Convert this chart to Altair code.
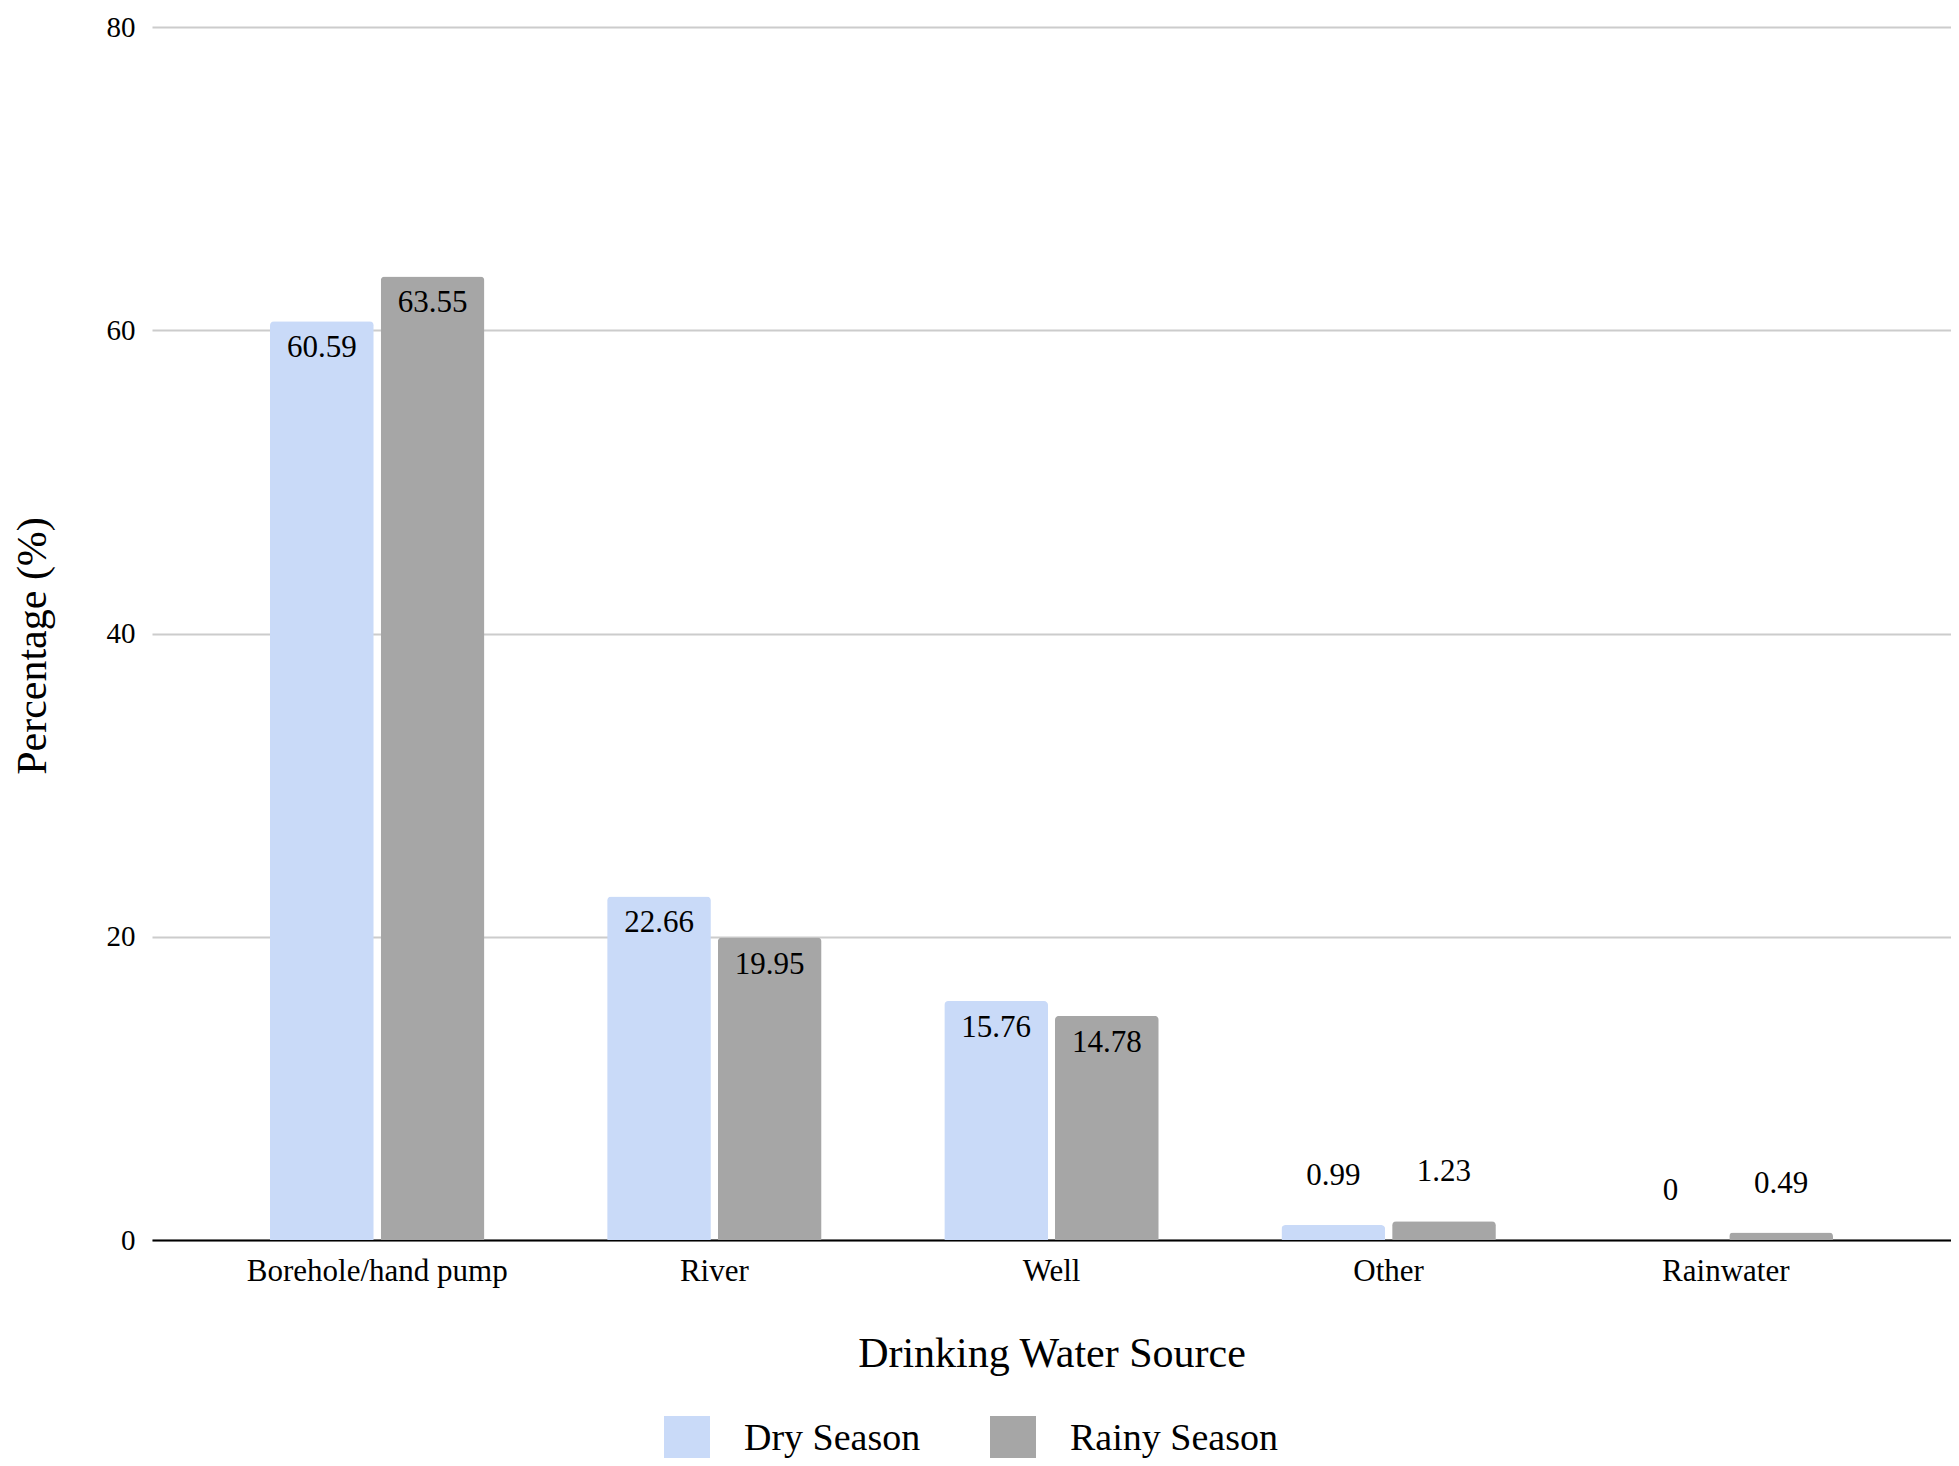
import altair as alt
import pandas as pd

categories = ["Borehole/hand pump", "River", "Well", "Other", "Rainwater"]
seasons = ["Dry Season", "Rainy Season"]
dry = [60.59, 22.66, 15.76, 0.99, 0]
rainy = [63.55, 19.95, 14.78, 1.23, 0.49]
colors = ["#c9daf8", "#a6a6a6"]

rows = []
for c, d, r in zip(categories, dry, rainy):
    for s, v in zip(seasons, (d, r)):
        rows.append({"Source": c, "Season": s, "Value": v,
                     "Label": f"{v:g}", "Inside": v > 5})
df = pd.DataFrame(rows)

FONT = "Liberation Serif"
W, H = 1799, 1213

x_enc = alt.X("Source:N", sort=categories,
              scale=alt.Scale(paddingInner=0.364, paddingOuter=0.35),
              axis=alt.Axis(title="Drinking Water Source", labelAngle=0,
                            labelFont=FONT, labelFontSize=31, labelColor="#000000",
                            labelPadding=16, labelLimit=0, ticks=False,
                            domainColor="#000000", domainWidth=2,
                            titleFont=FONT, titleFontSize=42, titleFontWeight="normal",
                            titleColor="#000000", titlePadding=47))
xo_enc = alt.XOffset("Season:N", sort=seasons, scale=alt.Scale(paddingInner=0.063))
y_enc = alt.Y("Value:Q",
              scale=alt.Scale(domain=[0, 80], nice=False),
              axis=alt.Axis(title="Percentage (%)", values=[0, 20, 40, 60, 80],
                            labelFont=FONT, labelFontSize=29, labelColor="#000000",
                            labelPadding=17, ticks=False, domain=False,
                            gridColor="#cccccc", gridWidth=2,
                            titleFont=FONT, titleFontSize=42, titleFontWeight="normal",
                            titleColor="#000000", titlePadding=52, titleY=H / 2 + 12))

bars = alt.Chart(df).mark_bar(cornerRadiusTopLeft=4, cornerRadiusTopRight=4).encode(
    x=x_enc, xOffset=xo_enc, y=y_enc,
    color=alt.Color("Season:N", sort=seasons,
                    scale=alt.Scale(domain=seasons, range=colors),
                    legend=alt.Legend(title=None, orient="none", direction="horizontal",
                                      legendX=512, legendY=1389,
                                      symbolType="square", symbolSize=2116,
                                      symbolStrokeWidth=0,
                                      labelFont=FONT, labelFontSize=38, labelLimit=0,
                                      labelColor="#000000", labelOffset=34,
                                      columnPadding=69)),
)

text_in = alt.Chart(df).transform_filter("datum.Inside").mark_text(
    font=FONT, fontSize=31, color="#000000", baseline="middle", dy=27
).encode(x=x_enc, xOffset=xo_enc, y=y_enc, text="Label:N")

text_out = alt.Chart(df).transform_filter("!datum.Inside").mark_text(
    font=FONT, fontSize=31, color="#000000", baseline="middle", dy=-49
).encode(x=x_enc, xOffset=xo_enc, y=y_enc, text="Label:N")

chart = alt.layer(bars, text_in, text_out).properties(
    width=W, height=H,
    autosize="none",
    padding={"left": 144, "top": 19, "right": 0, "bottom": 218},
).configure_view(stroke=None)

chart.save("out.html", embed_options={"renderer": "svg", "actions": False})
